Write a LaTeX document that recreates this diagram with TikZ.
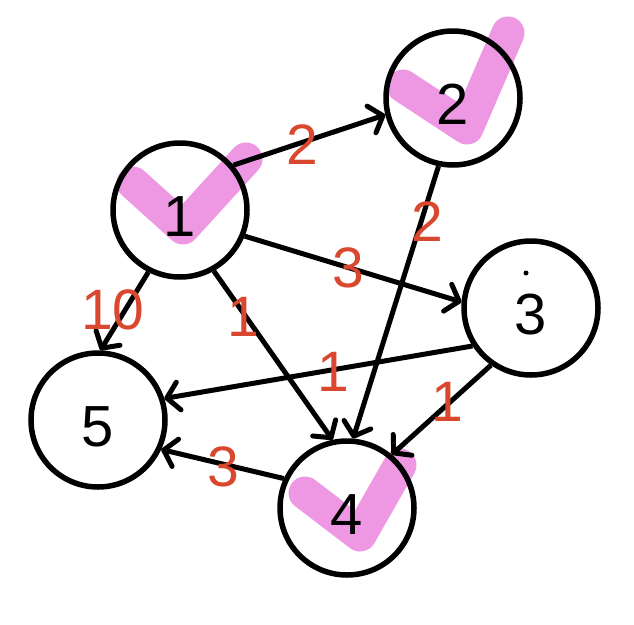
\documentclass[tikz,border=0pt]{standalone}
\usepackage{fontspec}
\setmainfont{Liberation Sans}
\usetikzlibrary{arrows.meta}
\definecolor{lbl}{RGB}{217,72,46}
\definecolor{chk}{RGB}{238,152,228}
\begin{document}
\begin{tikzpicture}[x=1pt,y=-1pt,
  vtx/.style={circle,draw,line width=5.5pt,minimum size=134pt,inner sep=0pt,text height=52pt,text depth=0pt,font=\fontsize{58}{60}\selectfont},
  edge/.style={line width=5pt,-{Straight Barb[length=12pt,width=28pt,round]}},
  wt/.style={text=lbl,font=\fontsize{57}{60}\selectfont,inner sep=0pt},
  tick/.style={draw=chk,line width=33pt,line cap=round,line join=round}]
\useasboundingbox (0,0) rectangle (634,624);
% check marks (under everything)
\draw[tick] (133,183) -- (183,228) -- (246,159);
\draw[tick] (403,86) -- (467,128) -- (508,33);
\draw[tick] (305,493) -- (360,535) -- (400,465);
% vertices
\node[vtx] (n1) at (180,210) {1};
\node[vtx] (n2) at (453,98) {2};
\node[vtx] (n3) at (531,308) {3};
\node[vtx] (n4) at (347,508) {4};
\node[vtx] (n5) at (98,420) {5};
\node[circle,fill,inner sep=0pt,minimum size=5pt] (dot) at (526,273) {};
% edges
\draw[edge] (n1.40) -- (n2.194);
\draw[edge] (n1.-22) -- (n3.175);
\draw[edge] (n1.243) -- (n5.88);
\draw[edge] (n1.-61) -- (n4.102);
\draw[edge] (n2.258) -- (n4.85);
\draw[edge] (n3.213) -- (n5.18);
\draw[edge] (n3.235) -- (n4.50);
\draw[edge] (n4.155) -- (n5.-25);
% weights
\node[wt] (w12) at (302,145) {2};
\node[wt] (w13) at (348,268) {3};
\node[wt] (w15) at (113,310) {10};
\node[wt] (w14) at (243,317) {1};
\node[wt] (w24) at (427,222) {2};
\node[wt] (w35) at (333,372) {1};
\node[wt] (w34) at (447,402) {1};
\node[wt] (w45) at (223,467) {3};
\end{tikzpicture}
\end{document}
